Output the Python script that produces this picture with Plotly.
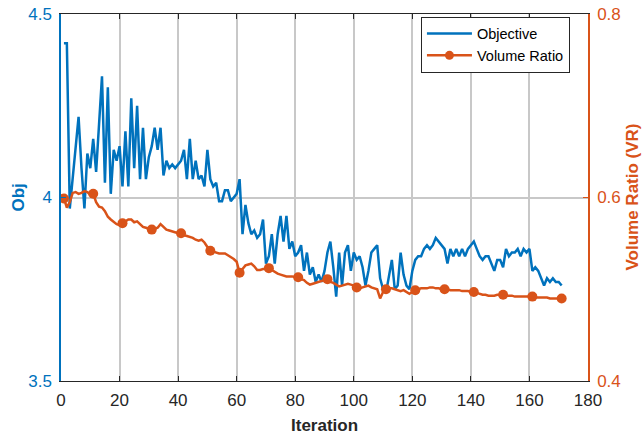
import plotly.graph_objects as go

# ---------------- data ----------------
iterations = list(range(1, 172))

objective = [
    4.42, 4.42, 3.97, 4.05, 4.14, 4.22, 4.08, 3.97, 4.12, 4.08,
    4.16, 4.07, 4.20, 4.33, 4.04, 4.30, 4.01, 4.13, 4.10, 4.14,
    4.03, 4.18, 4.03, 4.27, 4.08, 4.25, 4.05, 4.19, 4.05, 4.11,
    4.14, 4.19, 4.13, 4.19, 4.06, 4.10, 4.08, 4.09, 4.08, 4.09,
    4.10, 4.13, 4.05, 4.16, 4.05, 4.10, 4.05, 4.06, 4.03, 4.13,
    4.05, 4.03, 4.04, 3.99, 3.99, 4.02, 4.02, 3.99, 4.00, 4.01,
    4.05, 3.90, 3.98, 3.93, 3.90, 3.91, 3.89, 3.90, 3.94, 3.82,
    3.84, 3.90, 3.82, 3.90, 3.95, 3.88, 3.95, 3.86, 3.88, 3.84,
    3.85, 3.87, 3.80, 3.85, 3.79, 3.81, 3.77, 3.79, 3.77, 3.80,
    3.85, 3.88, 3.81, 3.73, 3.85, 3.76, 3.85, 3.87, 3.80, 3.85,
    3.83, 3.84, 3.81, 3.76, 3.80, 3.85, 3.86, 3.87, 3.78, 3.75,
    3.74, 3.79, 3.83, 3.75, 3.76, 3.85, 3.79, 3.76, 3.75, 3.80,
    3.83, 3.84, 3.84, 3.86, 3.87, 3.86, 3.87, 3.89, 3.88, 3.87,
    3.86, 3.82, 3.86, 3.84, 3.86, 3.84, 3.86, 3.84, 3.86, 3.87,
    3.88, 3.86, 3.84, 3.83, 3.84, 3.84, 3.82, 3.80, 3.83, 3.83,
    3.81, 3.86, 3.84, 3.85, 3.85, 3.86, 3.84, 3.86, 3.85, 3.86,
    3.80, 3.81, 3.80, 3.78, 3.76, 3.78, 3.77, 3.78, 3.77, 3.77,
    3.76,
]

volume_ratio = [
    0.599, 0.589, 0.595, 0.605, 0.606, 0.604, 0.605, 0.607, 0.606, 0.603,
    0.604, 0.595, 0.590, 0.589, 0.585, 0.579, 0.576, 0.573, 0.571, 0.570,
    0.572, 0.574, 0.576, 0.576, 0.573, 0.574, 0.571, 0.568, 0.567, 0.566,
    0.565, 0.566, 0.567, 0.571, 0.568, 0.565, 0.564, 0.563, 0.562, 0.561,
    0.561, 0.559, 0.558, 0.557, 0.556, 0.554, 0.553, 0.554, 0.551, 0.546,
    0.542, 0.541, 0.540, 0.539, 0.539, 0.539, 0.537, 0.535, 0.533, 0.530,
    0.518, 0.522, 0.526, 0.527, 0.528, 0.525, 0.521, 0.521, 0.522, 0.522,
    0.523, 0.521, 0.519, 0.517, 0.516, 0.515, 0.514, 0.514, 0.514, 0.513,
    0.513, 0.511, 0.510, 0.507, 0.505, 0.506, 0.507, 0.508, 0.509, 0.510,
    0.511, 0.508, 0.507, 0.505, 0.503, 0.504, 0.505, 0.506, 0.505, 0.504,
    0.502, 0.501, 0.502, 0.503, 0.504, 0.502, 0.501, 0.500, 0.490, 0.497,
    0.500, 0.501, 0.501, 0.500, 0.499, 0.498, 0.499, 0.497, 0.495, 0.497,
    0.499, 0.500, 0.501, 0.501, 0.501, 0.502, 0.502, 0.501, 0.501, 0.500,
    0.500, 0.500, 0.499, 0.499, 0.499, 0.499, 0.498, 0.498, 0.498, 0.497,
    0.497, 0.496, 0.495, 0.494, 0.494, 0.493, 0.493, 0.493, 0.494, 0.494,
    0.494, 0.493, 0.493, 0.493, 0.492, 0.492, 0.492, 0.492, 0.492, 0.492,
    0.492, 0.491, 0.491, 0.491, 0.491, 0.491, 0.490, 0.490, 0.490, 0.490,
    0.490,
]

marker_step = 10
x_ticks = [0, 20, 40, 60, 80, 100, 120, 140, 160, 180]
y1_ticks = [3.5, 4, 4.5]
y1_labels = ["3.5", "4", "4.5"]
y2_ticks = [0.4, 0.6, 0.8]
y2_labels = ["0.4", "0.6", "0.8"]

BLUE = "#0072BD"
ORANGE = "#D95319"
DARK = "#262626"
GRID = "#c8c8c8"
FONT = "Liberation Sans, Arial, sans-serif"

marker_sizes = [10 if i % marker_step == 0 else 0 for i in range(len(iterations))]

fig = go.Figure()
fig.add_trace(go.Scatter(
    x=iterations, y=objective, mode="lines", name="Objective",
    line=dict(color=BLUE, width=2.5), yaxis="y",
))
fig.add_trace(go.Scatter(
    x=iterations, y=volume_ratio, mode="lines+markers", name="Volume Ratio",
    line=dict(color=ORANGE, width=2.5),
    marker=dict(color=ORANGE, size=marker_sizes, opacity=1, line=dict(width=0)),
    yaxis="y2", showlegend=False,
))
# legend entry for the volume ratio series
fig.add_trace(go.Scatter(
    x=[None], y=[None], mode="lines+markers", name="Volume Ratio",
    line=dict(color=ORANGE, width=2.5), marker=dict(color=ORANGE, size=9, opacity=1),
    yaxis="y2",
))

fig.update_layout(
    width=644, height=438,
    margin=dict(l=61, r=56, t=14, b=57, autoexpand=False),
    paper_bgcolor="white", plot_bgcolor="white",
    font=dict(family=FONT, size=17, color=DARK),
    showlegend=True,
    legend=dict(
        x=0.683, y=0.993, xanchor="left", yanchor="top",
        bgcolor="white", bordercolor=DARK, borderwidth=1,
        font=dict(size=14.5, color="black"),
        tracegroupgap=0, itemwidth=45,
    ),
    xaxis=dict(
        range=[0, 180], tickvals=x_ticks, ticks="inside", ticklen=5,
        tickcolor=DARK, showline=True, linecolor=DARK, linewidth=1.2,
        mirror="ticks", showgrid=True, gridcolor=GRID, gridwidth=1.5,
        zeroline=False, tickfont=dict(size=17, color=DARK), automargin=False,
        ticklabelstandoff=3,
    ),
    yaxis=dict(
        range=[3.5, 4.5], tickvals=y1_ticks, ticktext=y1_labels,
        ticks="inside", ticklen=5, tickcolor=BLUE,
        showline=True, linecolor=BLUE, linewidth=1.5,
        showgrid=True, gridcolor=GRID, gridwidth=1.5, zeroline=False,
        tickfont=dict(size=17, color=BLUE), automargin=False,
        ticklabelstandoff=4,
    ),
    yaxis2=dict(
        range=[0.4, 0.8], tickvals=y2_ticks, ticktext=y2_labels,
        overlaying="y", side="right",
        ticks="inside", ticklen=5, tickcolor=ORANGE,
        showline=True, linecolor=ORANGE, linewidth=1.5,
        showgrid=False, zeroline=False,
        tickfont=dict(size=17, color=ORANGE), automargin=False,
        ticklabelstandoff=4,
    ),
    annotations=[
        dict(text="<b>Obj</b>", xref="paper", yref="paper", x=0, y=0.5,
             xshift=-43, xanchor="center", yanchor="middle", textangle=-90,
             showarrow=False, font=dict(size=17, color=BLUE)),
        dict(text="<b>Volume Ratio (VR)</b>", xref="paper", yref="paper", x=1, y=0.5,
             xshift=44, xanchor="center", yanchor="middle", textangle=-90,
             showarrow=False, font=dict(size=17, color=ORANGE)),
        dict(text="<b>Iteration</b>", xref="paper", yref="paper", x=0.5, y=0,
             yshift=-44, xanchor="center", yanchor="middle",
             showarrow=False, font=dict(size=17, color=DARK)),
    ],
)

fig.write_html("out.html", config={"displayModeBar": False},
               post_script="document.body.style.margin='0';")
